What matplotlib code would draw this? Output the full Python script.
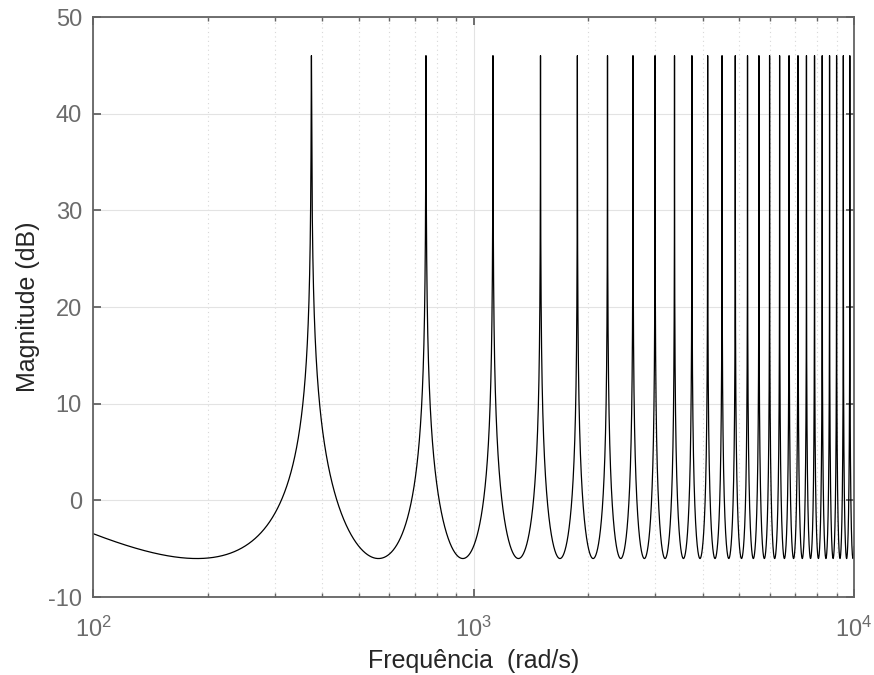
import numpy as np
import matplotlib
matplotlib.use("Agg")
import matplotlib.pyplot as plt
from matplotlib.ticker import LogLocator, NullFormatter, FixedLocator

# Values
first_resonance = 375.0      # rad/s, spacing of resonance peaks
trough_gain = 0.5            # minimum magnitude (-6 dB)
peak_db = 46.0               # peak height in dB
freq_range = [100.0, 10000.0]
y_ticks = [-10, 0, 10, 20, 30, 40, 50]
x_ticks = [1e2, 1e3, 1e4]
x_ticklabels = ['$10^2$', '$10^3$', '$10^4$']

eps = trough_gain / 10 ** (peak_db / 20)
w = np.linspace(freq_range[0], freq_range[1], 600000)
x = np.pi * w / first_resonance
mag = trough_gain / np.sqrt(np.sin(x) ** 2 + eps ** 2)
mag_db = 20 * np.log10(mag)

plt.rcParams['font.family'] = ['Liberation Sans', 'DejaVu Sans']
plt.rcParams['mathtext.fontset'] = 'custom'
plt.rcParams['mathtext.rm'] = 'Liberation Sans'
plt.rcParams['mathtext.it'] = 'Liberation Sans'
plt.rcParams['axes.unicode_minus'] = False

axcol = '#636363'
txtcol = '#6b6b6b'

fig = plt.figure(figsize=(8.74, 6.75), dpi=100)
ax = fig.add_axes([93 / 874, 1 - 597 / 675, (854 - 93) / 874, (597 - 17) / 675])
ax.plot(w, mag_db, color='black', linewidth=0.9)
ax.set_xscale('log')
ax.set_xlim(freq_range)
ax.set_ylim(-10, 50)
ax.set_yticks(y_ticks)
ax.set_yticklabels([str(v) for v in y_ticks])
ax.xaxis.set_major_locator(FixedLocator(x_ticks))
ax.set_xticklabels(x_ticklabels)
ax.xaxis.set_minor_locator(LogLocator(base=10, subs=np.arange(2, 10), numticks=20))
ax.xaxis.set_minor_formatter(NullFormatter())

ax.grid(True, which='major', color='#e3e3e3', linewidth=0.8, linestyle='-')
ax.grid(True, which='minor', axis='x', color='#d8d8d8', linewidth=0.8, linestyle=(0, (1, 3)))
ax.set_axisbelow(True)

for s in ax.spines.values():
    s.set_color(axcol)
    s.set_linewidth(1.3)
ax.tick_params(which='both', direction='in', top=True, right=True, color=axcol,
               labelcolor=txtcol, labelsize=17)
ax.tick_params(which='major', length=6, width=1.3)
ax.tick_params(which='minor', length=3, width=1.0)
ax.tick_params(axis='x', which='major', pad=14)
ax.tick_params(axis='y', which='major', pad=8)

ax.set_xlabel('Frequência  (rad/s)', fontsize=18, color='#262626', labelpad=5)
ax.set_ylabel('Magnitude (dB)', fontsize=18, color='#262626', labelpad=6)

fig.savefig('out.png', dpi=100)
